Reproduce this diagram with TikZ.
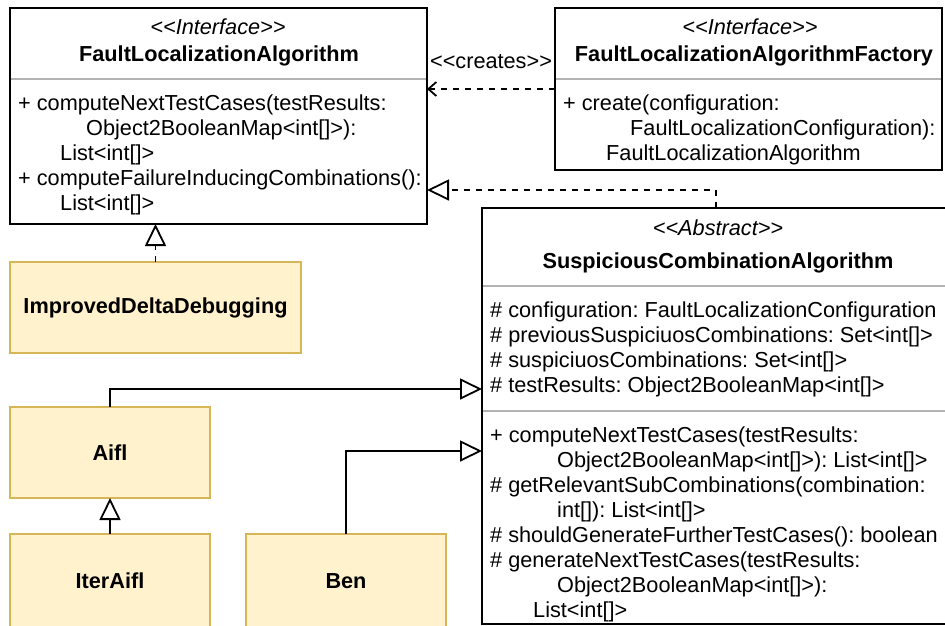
\documentclass[tikz,border=0pt]{standalone}
\usepackage{fontspec}
\setmainfont{Liberation Sans}[Ligatures=TeXOff]
\usetikzlibrary{arrows.meta,calc}
\definecolor{implfill}{HTML}{FFF2CC}
\definecolor{implborder}{HTML}{D6B656}
\definecolor{sepgray}{HTML}{B3B3B3}
\newcommand\umlfont{\fontsize{21.7}{25}\selectfont\frenchspacing}
\begin{document}
\begin{tikzpicture}[x=1pt,y=-1pt,
  classbox/.style={draw=black, line width=2pt, fill=white, anchor=north west,
    inner sep=0pt, outer sep=0pt},
  implbox/.style={draw=implborder, fill=implfill, line width=2pt, anchor=north west,
    inner sep=0pt, outer sep=0pt, font=\umlfont\bfseries},
  sepline/.style={draw=sepgray, line width=2pt, shorten <=1pt, shorten >=1pt},
  txt/.style={anchor=base west, inner sep=0pt, font=\umlfont},
  stereo/.style={anchor=base, inner sep=0pt, font=\umlfont\itshape},
  cname/.style={anchor=base, inner sep=0pt, font=\umlfont\bfseries},
  conn/.style={line width=1.8pt, draw=black},
  dashconn/.style={conn, dash pattern=on 6pt off 6pt},
  hollow/.style={-{Triangle[open, length=22pt, width=21pt, fill=white]}},
  barb/.style={-{Straight Barb[length=8pt, width=14pt]}}
]
% canvas
\path[fill=white, use as bounding box] (0,0) rectangle (945,625);

% ---- FaultLocalizationAlgorithm ----
\node[classbox, minimum width=417pt, minimum height=216pt] (A) at (10,8) {};
\draw[sepline] (A.west |- 0,79) -- (A.east |- 0,79);
\node[stereo] (Ast) at (218,34) {<<Interface>>};
\node[cname] (Anm) at (219,61) {FaultLocalizationAlgorithm};
\node[txt] (Am1) at (18,110) {+ computeNextTestCases(testResults:};
\node[txt] (Am2) at (86,135) {Object2BooleanMap<int[]>):};
\node[txt] (Am3) at (60,160) {List<int[]>};
\node[txt] (Am4) at (18,185) {+ computeFailureInducingCombinations():};
\node[txt] (Am5) at (60,210) {List<int[]>};

% ---- FaultLocalizationAlgorithmFactory ----
\node[classbox, minimum width=387pt, minimum height=162pt] (F) at (555,8) {};
\draw[sepline] (F.west |- 0,79) -- (F.east |- 0,79);
\node[stereo] (Fst) at (750,34) {<<Interface>>};
\node[cname] (Fnm) at (754,61) {FaultLocalizationAlgorithmFactory};
\node[txt] (Fm1) at (563,110) {+ create(configuration:};
\node[txt] (Fm2) at (630,135) {FaultLocalizationConfiguration):};
\node[txt] (Fm3) at (606,160) {FaultLocalizationAlgorithm};

% ---- SuspiciousCombinationAlgorithm ----
\node[classbox, minimum width=472pt, minimum height=416pt] (S) at (482,208) {};
\draw[sepline] (S.west |- 0,286) -- (S.east |- 0,286);
\draw[sepline] (S.west |- 0,411) -- (S.east |- 0,411);
\node[stereo] (Sst) at (718,235) {<<Abstract>>};
\node[cname] (Snm) at (718,268) {SuspiciousCombinationAlgorithm};
\node[txt] (Sa1) at (490,317) {\# configuration: FaultLocalizationConfiguration};
\node[txt] (Sa2) at (490,342) {\# previousSuspiciuosCombinations: Set<int[]>};
\node[txt] (Sa3) at (490,367) {\# suspiciuosCombinations: Set<int[]>};
\node[txt] (Sa4) at (490,392) {\# testResults: Object2BooleanMap<int[]>};
\node[txt] (Sm1) at (490,442) {+ computeNextTestCases(testResults:};
\node[txt] (Sm2) at (557,467) {Object2BooleanMap<int[]>): List<int[]>};
\node[txt] (Sm3) at (490,492) {\# getRelevantSubCombinations(combination:};
\node[txt] (Sm4) at (557,517) {int[]): List<int[]>};
\node[txt] (Sm5) at (490,542) {\# shouldGenerateFurtherTestCases(): boolean};
\node[txt] (Sm6) at (490,567) {\# generateNextTestCases(testResults:};
\node[txt] (Sm7) at (557,592) {Object2BooleanMap<int[]>):};
\node[txt] (Sm8) at (533,617) {List<int[]>};

% ---- concrete algorithms ----
\node[implbox, minimum width=291pt, minimum height=91pt] (IDD) at (10,262) {ImprovedDeltaDebugging};
\node[implbox, minimum width=200pt, minimum height=91pt] (Aifl) at (10,407) {Aifl};
\node[implbox, minimum width=200pt, minimum height=93pt] (Iter) at (10,534) {};
\node[anchor=base, inner sep=0pt, font=\umlfont\bfseries] (IterT) at (Iter.north |- 0,588) {IterAifl};
\node[implbox, minimum width=200pt, minimum height=93pt] (Ben) at (246,534) {};
\node[anchor=base, inner sep=0pt, font=\umlfont\bfseries] (BenT) at (Ben.north |- 0,588) {Ben};

% ---- relations ----
\node[anchor=base, font=\umlfont, inner sep=0pt] (crt) at (491,68) {<<creates>>};
\draw[dashconn, barb] (F.west |- 0,89) -- (A.east |- 0,89);
\draw[dashconn, hollow] ($(S.north west)+(234,0)$) |- (A.east |- 0,190);
\draw[dashconn, hollow] (IDD.north) -- (IDD.north |- A.south);
\draw[conn, hollow] (Aifl.north) |- (S.west |- 0,389);
\draw[conn, hollow] (Iter.north) -- (Aifl.south);
\draw[conn, hollow] (Ben.north) |- (S.west |- 0,451);
\end{tikzpicture}
\end{document}
